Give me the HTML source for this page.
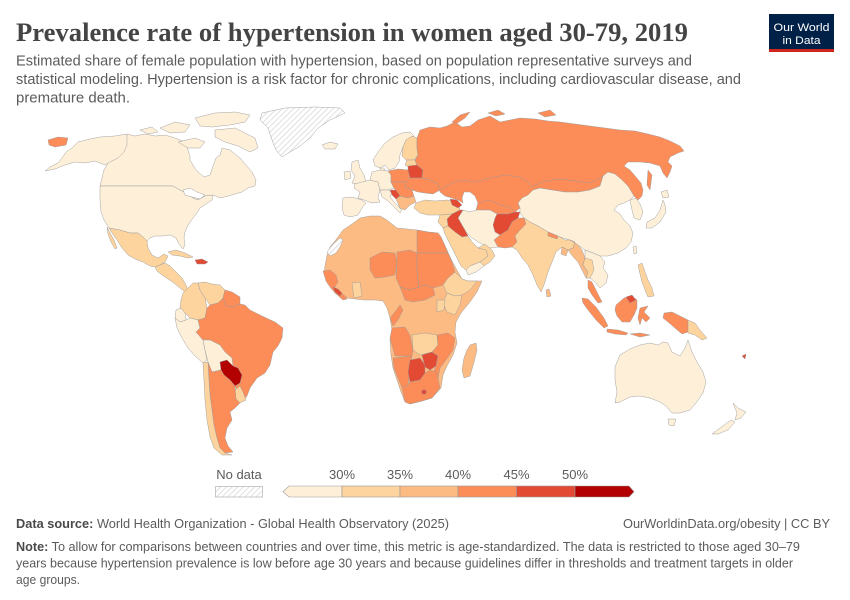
<!DOCTYPE html>
<html><head><meta charset="utf-8"><style>
html,body{margin:0;padding:0;background:#fff;}
svg{display:block;}
</style></head><body>
<svg width="850" height="600" viewBox="0 0 850 600" xmlns="http://www.w3.org/2000/svg">
<defs>
<pattern id="h" width="4" height="4" patternUnits="userSpaceOnUse" patternTransform="rotate(45)">
<rect width="4" height="4" fill="#fff"/><line x1="0" y1="0" x2="0" y2="4" stroke="#d4d4d4" stroke-width="1.4"/>
</pattern>
</defs>
<rect width="850" height="600" fill="#fff"/>
<text x="16" y="41" font-family="Liberation Serif, serif" font-size="26" font-weight="bold" fill="#444" textLength="672" lengthAdjust="spacingAndGlyphs">Prevalence rate of hypertension in women aged 30-79, 2019</text>
<g font-family="Liberation Sans, sans-serif" font-size="15" fill="#5b5b5b">
<text x="16" y="65.5" textLength="676" lengthAdjust="spacingAndGlyphs">Estimated share of female population with hypertension, based on population representative surveys and</text>
<text x="16" y="84" textLength="725" lengthAdjust="spacingAndGlyphs">statistical modeling. Hypertension is a risk factor for chronic complications, including cardiovascular disease, and</text>
<text x="16" y="102.5" textLength="114" lengthAdjust="spacingAndGlyphs">premature death.</text>
</g>
<rect x="769" y="14" width="65" height="38" fill="#002147"/>
<rect x="769" y="49" width="65" height="3" fill="#ce261e"/>
<g font-family="Liberation Sans, sans-serif" font-size="11" fill="#fff" text-anchor="middle">
<text x="801.5" y="31" textLength="56" lengthAdjust="spacingAndGlyphs">Our World</text>
<text x="801.5" y="44" textLength="38" lengthAdjust="spacingAndGlyphs">in Data</text>
</g>

<g stroke="#9a9a9a" stroke-width="0.45" stroke-linejoin="round">
<!-- North America -->
<polygon fill="url(#h)" points="262,113 285,108 315,107 340,108 345,113 330,120 318,128 310,138 300,146 290,152 282,157 276,150 272,140 268,128 260,120"/>
<polygon fill="#feefd9" points="322,145 330,142 338,144 335,149 325,149"/>
<polygon fill="#feefd9" points="127,134 135,136 145,134 155,136 165,135 175,138 185,142 188,150 190,156 190,160 196,170 204,177 210,175 213,166 216,158 220,155 222,148 230,150 240,158 246,165 252,172 256,180 255,186 248,188 242,192 235,194 228,196 220,198 213,195 205,196 198,200 193,198 188,194 180,190 173,186 100,186 102,178 104,170 108,163 115,155 122,145"/>
<polygon fill="#feefd9" points="127,134 115,136 100,137 90,139 78,142 72,148 66,152 62,158 58,163 50,167 45,171 55,169 65,165 75,162 85,163 95,161 105,165 110,162 118,158 124,152 127,145"/>
<polygon fill="#feefd9" points="160,128 175,122 190,125 185,132 170,133"/>
<polygon fill="#feefd9" points="195,118 215,113 235,112 250,115 245,122 230,125 212,127 200,126"/>
<polygon fill="#feefd9" points="215,130 235,128 255,138 258,148 250,152 238,146 225,142 215,137"/>
<polygon fill="#feefd9" points="178,142 195,138 205,142 200,148 188,148"/>
<polygon fill="#feefd9" points="140,130 152,127 158,132 148,134"/>
<polygon fill="#feefd9" points="100,186 173,186 180,190 188,194 193,198 198,200 205,196 213,195 212,200 206,204 200,208 197,213 193,218 188,225 185,232 184,238 185,245 183,249 179,244 176,238 170,235 162,236 155,236 150,238 147,241 143,237 138,233 130,233 120,230 109,228 104,220 101,212 100,200"/>
<polygon fill="#fff" points="183,190 190,188 197,192 205,195 200,199 192,197 185,195"/>
<polygon fill="#fdd49e" points="109,228 120,230 130,233 138,233 143,237 147,241 148,248 152,255 158,258 164,254 168,256 165,262 160,265 155,267 150,266 143,262 135,259 128,255 122,248 117,240 112,233"/>
<polygon fill="#fdd49e" points="107,227 110,233 114,240 117,248 115,249 111,242 108,234"/>
<polygon fill="#fdd49e" points="155,267 160,265 165,263 170,266 176,272 182,278 186,285 188,290 185,292 180,288 174,283 168,279 162,275 157,271"/>
<polygon fill="#fdd49e" points="168,252 176,250 185,253 193,257 188,258 180,256 172,255"/>
<polygon fill="#e34a33" points="195,260 202,259 208,262 205,264 197,264"/>
<polygon fill="#fc8d59" points="48,140 58,137 68,138 66,145 55,147 49,145"/>
<!-- South America -->
<polygon fill="#fdd49e" points="183,293 188,288 193,283 198,283 200,290 205,298 207,308 205,318 198,320 190,318 185,313 180,308 181,300"/>
<polygon fill="#fdd49e" points="198,283 205,282 212,284 220,285 225,290 223,298 218,303 210,305 205,298 200,290"/>
<polygon fill="#fc8d59" points="225,290 232,292 240,297 240,304 233,307 226,306 223,298"/>
<polygon fill="#feefd9" points="176,310 181,308 185,313 186,320 180,322 175,318"/>
<polygon fill="#feefd9" points="175,318 180,322 186,320 190,318 198,320 200,328 196,332 203,340 205,350 207,360 203,363 195,356 188,348 182,338 177,328"/>
<polygon fill="#fc8d59" points="198,320 205,318 207,308 210,305 218,303 223,298 226,306 233,307 240,304 245,305 250,310 262,316 275,322 283,328 282,338 278,346 273,352 270,365 265,373 257,378 250,388 247,396 243,401 238,392 235,386 240,383 242,375 238,368 233,366 232,358 225,352 220,345 210,340 203,340 196,332 200,328"/>
<polygon fill="#feefd9" points="203,340 210,340 220,345 225,352 232,358 233,366 227,360 220,362 221,370 212,372 208,362 205,350"/>
<polygon fill="#b30000" points="220,362 227,360 233,366 238,368 242,375 240,383 235,386 230,380 224,375 221,370"/>
<polygon fill="#fdd49e" points="235,390 240,386 243,392 246,400 240,403 236,399"/>
<polygon fill="#fc8d59" points="208,362 212,372 221,370 224,375 230,380 235,386 236,399 240,403 235,408 230,412 232,420 227,428 225,438 228,446 233,452 225,453 220,448 217,438 214,425 212,410 210,395 209,380"/>
<polygon fill="#fdd49e" points="203,363 208,362 209,380 210,395 212,410 214,425 217,438 220,448 225,453 232,455 222,455 214,448 210,437 207,420 205,400 204,380"/>
<!-- Europe -->
<polygon fill="#feefd9" points="373,160 378,152 385,143 393,137 402,133 410,132 414,136 406,140 403,147 400,155 399,162 395,168 389,170 385,165 380,168 375,166"/>
<polygon fill="#fdd49e" points="403,147 406,140 412,136 417,138 417,148 418,155 414,160 406,160 402,156"/>
<polygon fill="#feefd9" points="380,168 384,168 385,173 381,174"/>
<polygon fill="#feefd9" points="352,162 358,160 360,168 364,175 366,182 358,184 352,183 355,176 351,170"/>
<polygon fill="#feefd9" points="344,172 350,171 351,178 345,180"/>
<polygon fill="#feefd9" points="355,184 362,182 370,180 378,182 380,190 378,197 380,202 372,203 364,200 358,198 360,192 354,188"/>
<polygon fill="#feefd9" points="343,198 352,197 362,200 366,203 362,208 358,215 350,217 344,215 342,208"/>
<polygon fill="#feefd9" points="372,172 380,170 388,171 391,175 391,182 394,188 388,190 380,190 378,182 370,180"/>
<polygon fill="#feefd9" points="380,190 388,190 392,193 390,197 395,203 402,210 400,213 395,208 388,201 382,197"/>
<polygon fill="#fc8d59" points="388,171 398,169 408,170 410,178 406,182 396,182 391,182 391,175"/>
<polygon fill="#fdd49e" points="407,160 415,160 417,166 410,168 405,165"/>
<polygon fill="#e34a33" points="408,166 417,165 423,170 422,178 410,178 408,170"/>
<polygon fill="#fc8d59" points="406,182 410,178 422,178 430,180 438,184 440,190 433,194 425,193 418,192 412,190 405,187"/>
<polygon fill="#fc8d59" points="391,182 406,182 405,187 412,190 414,196 408,198 400,196 394,188"/>
<polygon fill="#e34a33" points="390,190 396,190 400,196 396,199 392,195"/>
<polygon fill="#fdbb84" points="396,199 400,196 408,198 414,196 416,202 410,205 405,210 400,208"/>
<polygon fill="#fdd49e" points="416,203 425,200 435,201 447,200 458,203 460,210 452,214 440,215 428,215 420,213 414,208"/>
<!-- Russia + Central Asia -->
<polygon fill="#fc8d59" points="417,138 420,130 430,127 440,128 447,126 455,122 462,127 470,126 478,120 490,116 500,122 510,120 520,118 535,119 548,121 560,122 575,124 590,126 605,128 620,130 635,131 648,134 660,137 670,141 680,146 684,151 678,153 670,157 668,162 672,166 670,172 667,178 663,173 660,166 650,163 640,162 628,162 624,166 630,170 636,177 641,183 643,190 642,196 638,200 634,196 628,186 622,180 615,174 608,172 603,176 600,186 590,190 578,192 565,192 552,190 540,188 533,190 528,195 522,198 518,203 520,208 515,212 508,214 497,214 490,210 482,210 476,210 478,203 475,196 470,192 464,192 462,198 463,203 458,200 452,198 445,196 440,192 438,184 430,180 422,178 423,170 417,165 415,160 418,155 417,148"/>
<polygon fill="#fc8d59" points="452,122 460,115 470,112 465,118 456,124"/>
<polygon fill="#fc8d59" points="488,113 498,110 505,114 496,116"/>
<polygon fill="#fc8d59" points="538,113 550,110 556,115 545,117"/>
<polygon fill="#fc8d59" points="648,170 652,175 650,190 647,185"/>
<polyline fill="none" points="440,190 448,185 460,180 475,182 490,178 505,175 520,177 528,182 533,188"/>
<polyline fill="none" points="533,186 545,181 560,179 575,181 590,183 603,176"/>
<polyline fill="none" points="478,203 490,200 500,205 510,207 515,212"/>
<polygon fill="#e34a33" points="450,199 457,200 462,205 458,208 452,205"/>
<!-- East Asia -->
<polygon fill="#feefd9" points="522,198 528,195 533,190 540,188 552,190 565,192 578,192 590,190 600,186 603,176 608,172 615,174 622,180 628,186 634,196 630,200 624,203 618,205 614,210 620,214 624,220 630,226 633,233 631,242 626,248 618,253 608,256 600,256 593,253 585,250 578,245 570,240 560,237 548,232 538,226 530,222 524,218 520,213 520,208 518,203"/>
<polygon fill="#feefd9" points="630,200 636,198 640,204 643,212 640,220 634,218 632,210"/>
<polygon fill="#feefd9" points="647,222 655,218 660,210 663,200 665,205 666,212 660,222 652,228 646,228"/>
<polygon fill="#feefd9" points="661,192 667,190 669,197 663,198"/>
<polygon fill="#feefd9" points="633,247 636,246 637,253 634,254"/>
<!-- Middle East / South Asia -->
<polygon fill="#e34a33" points="497,214 508,214 515,212 520,212 518,218 512,222 508,230 500,235 495,232 493,225 495,218"/>
<polygon fill="#fc8d59" points="512,222 518,218 524,218 526,224 520,230 515,236 517,242 512,247 505,248 498,247 494,240 500,235 508,230"/>
<polygon fill="#feefd9" points="463,210 470,212 476,210 482,210 490,210 497,214 495,218 493,225 495,232 500,235 494,240 498,247 490,248 480,243 472,238 466,232 462,225 458,218"/>
<polygon fill="#e34a33" points="452,214 460,210 463,210 458,218 462,225 466,232 468,236 462,237 455,232 448,226 447,219"/>
<polygon fill="#fdd49e" points="440,215 452,214 447,219 448,226 443,228 438,222"/>
<polygon fill="#fdd49e" points="443,228 448,226 455,232 462,237 468,236 472,242 478,248 486,250 488,256 480,262 470,266 466,270 461,266 456,256 450,244 445,234"/>
<polygon fill="#feefd9" points="466,270 470,266 480,262 484,266 476,272 468,275"/>
<polygon fill="#fdd49e" points="478,248 485,244 492,250 495,256 490,262 484,266 480,262 488,256 486,250"/>
<polygon fill="#fdd49e" points="524,218 530,222 538,226 548,232 560,237 565,240 570,240 575,242 573,248 568,250 562,247 556,252 552,262 548,272 544,285 541,292 537,285 533,275 528,265 522,258 517,250 512,247 517,242 515,236 520,230 526,224"/>
<polygon fill="#fc8d59" points="548,232 558,236 557,239 548,236"/>
<polygon fill="#fdbb84" points="562,247 568,250 566,256 561,254"/>
<polygon fill="#fdbb84" points="546,290 549,289 551,296 547,297"/>
<polygon fill="#fdbb84" points="570,240 578,245 582,250 585,258 583,265 588,272 586,278 582,270 578,262 574,258 568,250 573,248 575,242"/>
<polygon fill="#feefd9" points="585,250 593,253 600,256 605,262 603,268 608,275 606,283 600,288 595,282 590,278 586,278 588,272 583,265 585,258"/>
<polygon fill="#fdd49e" points="585,258 592,260 594,270 590,278 586,278 588,272 583,265"/>
<polygon fill="#fc8d59" points="588,280 592,282 597,292 602,302 598,303 592,295 588,288"/>
<!-- SE Asia / Oceania -->
<polygon fill="#fc8d59" points="582,298 588,299 596,307 604,318 608,326 604,328 596,320 588,310 583,303"/>
<polygon fill="#fc8d59" points="607,329 618,330 628,333 626,335 615,334 607,332"/>
<polygon fill="#fc8d59" points="616,305 624,298 632,296 637,300 637,308 634,315 630,322 622,322 617,316 615,310"/>
<polygon fill="#e34a33" points="626,297 632,295 636,300 630,303"/>
<polygon fill="#fc8d59" points="640,308 648,306 644,312 650,318 646,322 642,318 640,325 638,318"/>
<polygon fill="#fc8d59" points="630,334 640,333 650,335 640,337"/>
<polygon fill="#fc8d59" points="664,313 672,312 680,316 688,320 688,332 682,334 675,328 668,322 663,318"/>
<polygon fill="#fdd49e" points="688,320 695,323 700,330 707,338 702,340 695,335 688,333"/>
<polygon fill="#fdd49e" points="638,265 642,263 645,272 648,280 652,288 654,296 648,297 645,290 642,282 640,274"/>
<polygon fill="#feefd9" points="615,367 620,355 630,349 640,345 650,343 658,345 663,342 668,343 672,352 680,356 685,348 688,340 692,352 697,362 703,372 706,382 703,393 696,403 690,410 680,413 672,413 666,406 660,402 650,398 640,396 630,397 620,402 615,403 617,392 615,380"/>
<polygon fill="#feefd9" points="668,419 676,419 674,426 669,425"/>
<polygon fill="#feefd9" points="733,403 738,408 746,412 741,418 735,420 737,413"/>
<polygon fill="#feefd9" points="731,420 735,422 728,430 718,434 712,434 720,428"/>
<polygon fill="#e34a33" points="742,356 746,354 745,359"/>
<!-- Africa -->
<polygon fill="#fdbb84" points="343,230 352,224 360,218 370,216 380,216 387,220 397,228 407,229 417,230 428,232 438,233 441,237 446,248 452,261 458,272 462,279 468,281 477,281 482,281 477,292 470,302 461,313 456,322 455,332 457,343 453,355 447,366 443,375 441,388 432,398 422,401 410,404 405,402 401,392 397,380 393,368 391,355 390,340 392,330 390,318 387,308 383,301 375,300 365,300 355,299 347,298 340,292 333,286 328,281 324,274 325,266 327,255 330,247 335,241"/>
<polygon fill="url(#h)" points="327,252 333,244 340,238 343,240 340,247 336,253 330,256"/>
<polygon fill="#fc8d59" points="417,230 428,232 438,233 441,237 446,248 448,253 417,253"/>
<polygon fill="#fc8d59" points="370,258 382,252 395,253 397,262 395,275 385,277 375,278 370,270"/>
<polygon fill="#fc8d59" points="397,252 410,250 417,253 417,270 419,287 410,290 400,287 396,278 397,262"/>
<polygon fill="#fc8d59" points="417,253 448,253 452,262 455,272 448,278 443,285 433,288 425,285 419,287 417,270"/>
<polygon fill="#fc8d59" points="323,271 330,270 336,275 338,282 334,288 340,292 345,296 347,299 343,300 335,293 330,287 326,281"/>
<polygon fill="#e34a33" points="333,287 338,289 342,293 340,296 335,292"/>
<polygon fill="#fdd49e" points="352,283 360,282 362,296 354,298"/>
<polygon fill="#fc8d59" points="400,287 410,290 419,287 425,285 433,288 435,295 425,300 413,302 405,300"/>
<polygon fill="#fdd49e" points="443,285 448,278 455,272 462,279 468,281 477,281 470,290 462,295 455,296 447,293"/>
<polygon fill="#fdd49e" points="447,293 455,296 462,295 460,305 455,315 447,312 443,303"/>
<polygon fill="#fc8d59" points="390,318 395,312 400,305 403,310 398,320 393,326"/>
<polygon fill="#fdd49e" points="437,300 445,300 444,310 437,312"/>
<polygon fill="#fdd49e" points="412,335 425,333 437,335 438,345 432,352 420,355 413,350"/>
<polygon fill="#fc8d59" points="392,328 405,327 410,335 413,350 412,356 395,356 392,345 390,338"/>
<polygon fill="#fc8d59" points="393,358 412,356 410,370 408,385 402,388 398,378 394,368"/>
<polygon fill="#e34a33" points="410,360 420,358 425,365 425,373 420,380 410,382 408,372"/>
<polygon fill="#e34a33" points="422,355 432,352 438,356 436,366 430,370 425,367"/>
<polygon fill="#fc8d59" points="437,335 448,333 455,338 453,350 446,360 440,368 438,378 433,374 436,366 438,356 432,352 438,345"/>
<polygon fill="#fc8d59" points="402,388 408,385 410,382 420,380 425,373 430,370 436,372 438,378 440,388 432,398 422,401 410,404 405,402"/>
<circle cx="424" cy="392" r="2.5" fill="#e34a33"/>
<polygon fill="#fdbb84" points="470,345 476,343 477,350 474,362 470,376 464,378 462,370 464,358 467,350"/>
</g>

<!-- Legend -->
<g font-family="Liberation Sans, sans-serif" font-size="13" fill="#5b5b5b" text-anchor="middle">
<text x="239" y="479">No data</text>
<text x="342" y="479">30%</text>
<text x="400" y="479">35%</text>
<text x="458" y="479">40%</text>
<text x="516.5" y="479">45%</text>
<text x="575" y="479">50%</text>
</g>
<rect x="215.5" y="486.5" width="47" height="10.5" fill="url(#h)" stroke="#bbb" stroke-width="0.8"/>
<g stroke="#999" stroke-width="0.6">
<polygon fill="#feefd9" points="283,491.7 289,486 342,486 342,497 289,497"/>
<rect x="342" y="486" width="58" height="11" fill="#fdd49e"/>
<rect x="400" y="486" width="58" height="11" fill="#fdbb84"/>
<rect x="458" y="486" width="58.5" height="11" fill="#fc8d59"/>
<rect x="516.5" y="486" width="58.5" height="11" fill="#e34a33"/>
<polygon fill="#b30000" points="575,486 629,486 634,491.7 629,497 575,497"/>
</g>

<!-- Footer -->
<g font-family="Liberation Sans, sans-serif" font-size="13" fill="#5b5b5b">
<text x="16" y="528" textLength="433" lengthAdjust="spacingAndGlyphs"><tspan font-weight="bold" fill="#4a4a4a">Data source:</tspan> World Health Organization - Global Health Observatory (2025)</text>
<text x="830" y="528" text-anchor="end" textLength="207" lengthAdjust="spacingAndGlyphs">OurWorldinData.org/obesity | CC BY</text>
<text x="16" y="551" textLength="784" lengthAdjust="spacingAndGlyphs"><tspan font-weight="bold" fill="#4a4a4a">Note:</tspan> To allow for comparisons between countries and over time, this metric is age-standardized. The data is restricted to those aged 30–79</text>
<text x="16" y="567.5" textLength="777" lengthAdjust="spacingAndGlyphs">years because hypertension prevalence is low before age 30 years and because guidelines differ in thresholds and treatment targets in older</text>
<text x="16" y="584" textLength="64" lengthAdjust="spacingAndGlyphs">age groups.</text>
</g>
</svg>
</body></html>
